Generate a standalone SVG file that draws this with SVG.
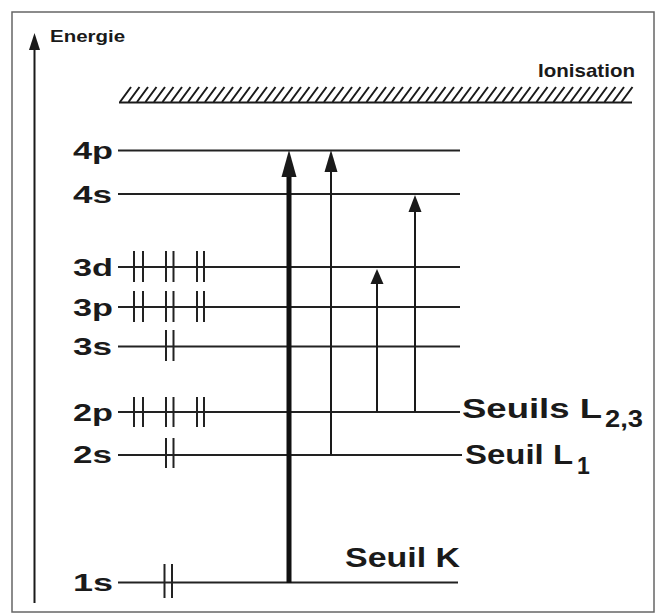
<svg xmlns="http://www.w3.org/2000/svg" width="657" height="616" viewBox="0 0 657 616">
<style>
  .lvl{stroke:#222;stroke-width:2;fill:none}
  .tick{stroke:#222;stroke-width:2;fill:none}
  .lab{font-family:"Liberation Sans",Arial,sans-serif;font-weight:bold;fill:#1a1a1a;font-size:23.5px}
  .big{font-family:"Liberation Sans",Arial,sans-serif;font-weight:bold;fill:#1a1a1a;font-size:27px}
  .small{font-family:"Liberation Sans",Arial,sans-serif;font-weight:bold;fill:#1a1a1a}
  .arr{stroke:#1a1a1a;stroke-width:2;fill:none}
  .head{fill:#1a1a1a;stroke:none}
</style>
<rect x="0" y="0" width="657" height="616" fill="#ffffff"/>
<rect x="12" y="12" width="642" height="600" fill="none" stroke="#666" stroke-width="1.5"/>

<g id="axis">
  <line x1="34.5" y1="603" x2="34.5" y2="46" stroke="#1a1a1a" stroke-width="2"/>
  <polygon class="head" points="34.5,33 29,50 40,50"/>
  <text class="small" x="50" y="42" font-size="16" textLength="75" lengthAdjust="spacingAndGlyphs">Energie</text>
</g>

<g id="ionisation">
  <text class="small" x="538" y="77" font-size="19" textLength="97" lengthAdjust="spacingAndGlyphs">Ionisation</text>
  <line x1="119" y1="102.5" x2="632" y2="102.5" stroke="#1a1a1a" stroke-width="2"/>
  <path stroke="#1a1a1a" stroke-width="2" fill="none" d="M120 102l11-15M128.5 102l11-15M137 102l11-15M145.5 102l11-15M154 102l11-15M162.5 102l11-15M171 102l11-15M179.5 102l11-15M188 102l11-15M196.5 102l11-15M205 102l11-15M213.5 102l11-15M222 102l11-15M230.5 102l11-15M239 102l11-15M247.5 102l11-15M256 102l11-15M264.5 102l11-15M273 102l11-15M281.5 102l11-15M290 102l11-15M298.5 102l11-15M307 102l11-15M315.5 102l11-15M324 102l11-15M332.5 102l11-15M341 102l11-15M349.5 102l11-15M358 102l11-15M366.5 102l11-15M375 102l11-15M383.5 102l11-15M392 102l11-15M400.5 102l11-15M409 102l11-15M417.5 102l11-15M426 102l11-15M434.5 102l11-15M443 102l11-15M451.5 102l11-15M460 102l11-15M468.5 102l11-15M477 102l11-15M485.5 102l11-15M494 102l11-15M502.5 102l11-15M511 102l11-15M519.5 102l11-15M528 102l11-15M536.5 102l11-15M545 102l11-15M553.5 102l11-15M562 102l11-15M570.5 102l11-15M579 102l11-15M587.5 102l11-15M596 102l11-15M604.5 102l11-15M613 102l11-15M621.5 102l11-15"/>
</g>

<g id="level-4p">
  <text class="lab" x="73" y="158.5" textLength="40" lengthAdjust="spacingAndGlyphs">4p</text>
  <line class="lvl" x1="118" y1="150.5" x2="460" y2="150.5"/>
</g>
<g id="level-4s">
  <text class="lab" x="73" y="202.5" textLength="39" lengthAdjust="spacingAndGlyphs">4s</text>
  <line class="lvl" x1="118" y1="194" x2="460" y2="194"/>
</g>
<g id="level-3d">
  <text class="lab" x="73" y="275.5" textLength="40" lengthAdjust="spacingAndGlyphs">3d</text>
  <line class="lvl" x1="118" y1="267" x2="460" y2="267"/>
  <path class="tick" d="M134 251v31M143 251v31M166 251v31M173.5 251v31M197 251v31M204 251v31"/>
</g>
<g id="level-3p">
  <text class="lab" x="73" y="315.5" textLength="40" lengthAdjust="spacingAndGlyphs">3p</text>
  <line class="lvl" x1="118" y1="307" x2="460" y2="307"/>
  <path class="tick" d="M134 291v31M143 291v31M166 291v31M173.5 291v31M197 291v31M204 291v31"/>
</g>
<g id="level-3s">
  <text class="lab" x="73" y="355" textLength="39" lengthAdjust="spacingAndGlyphs">3s</text>
  <line class="lvl" x1="118" y1="346.5" x2="460" y2="346.5"/>
  <path class="tick" d="M166 330v31M173.5 330v31"/>
</g>
<g id="level-2p">
  <text class="lab" x="73" y="420.5" textLength="40" lengthAdjust="spacingAndGlyphs">2p</text>
  <line class="lvl" x1="118" y1="412" x2="460" y2="412"/>
  <path class="tick" d="M134 397v30M143 397v30M166 397v30M173.5 397v30M197 397v30M204 397v30"/>
  <text class="big"><tspan x="462" y="418" textLength="140" lengthAdjust="spacingAndGlyphs">Seuils L</tspan><tspan x="605" y="426.5" font-size="23" textLength="38" lengthAdjust="spacingAndGlyphs">2,3</tspan></text>
</g>
<g id="level-2s">
  <text class="lab" x="73" y="463" textLength="39" lengthAdjust="spacingAndGlyphs">2s</text>
  <line class="lvl" x1="118" y1="455" x2="462" y2="455"/>
  <path class="tick" d="M166 438v30M173.5 438v30"/>
  <text class="big"><tspan x="465" y="463.5" textLength="108" lengthAdjust="spacingAndGlyphs">Seuil L</tspan><tspan x="577" y="473.5" font-size="23">1</tspan></text>
</g>
<g id="level-1s">
  <text class="lab" x="73" y="591" textLength="40" lengthAdjust="spacingAndGlyphs">1s</text>
  <line class="lvl" x1="118" y1="582.5" x2="458" y2="582.5"/>
  <path class="tick" d="M164.5 564v34M172 564v34"/>
  <text class="big" x="345" y="567" textLength="115" lengthAdjust="spacingAndGlyphs">Seuil K</text>
</g>

<g id="connectors">
  <line stroke="#111" stroke-width="5" x1="289" y1="583" x2="289" y2="172"/>
  <polygon class="head" points="289,150 281.5,177 296.5,177"/>
  <line class="arr" x1="331" y1="455" x2="331" y2="168"/>
  <polygon class="head" points="331,150 324.5,172 337.5,172"/>
  <line class="arr" x1="415" y1="412" x2="415" y2="208"/>
  <polygon class="head" points="415,195 408.5,212 421.5,212"/>
  <line class="arr" x1="377" y1="412" x2="377" y2="280"/>
  <polygon class="head" points="377,269 370.5,284 383.5,284"/>
</g>
</svg>
